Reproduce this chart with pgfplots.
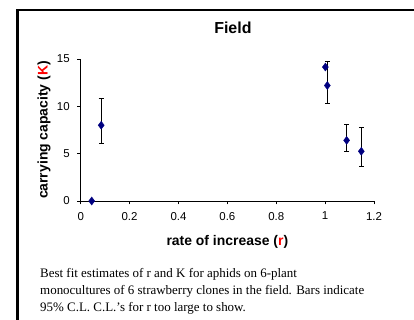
\documentclass[border=0pt]{standalone}
\usepackage{pgfplots}
\pgfplotsset{compat=1.18}
\usepackage{fontspec}
\setmainfont{Liberation Sans}
\newfontfamily\seriffont{Liberation Serif}
\definecolor{navy}{RGB}{0,0,128}
\begin{document}
\begin{tikzpicture}[x=1bp,y=1bp]
\useasboundingbox (0,0) rectangle (414,320);
\draw[line width=2.5bp] (17.5,-10) -- (17.5,310) -- (430,310);
\begin{axis}[
  at={(80.7bp,119bp)}, anchor=south west,
  scale only axis, width=293.3bp, height=142bp,
  xmin=0, xmax=1.2, ymin=0, ymax=15,
  axis lines=left, axis line style={-, black, line width=0.6bp},
  xtick={0,0.2,0.4,0.6,0.8,1,1.2}, ytick={0,5,10,15},
  tick align=outside, major tick length=3.5bp,
  tick style={black, line width=0.6bp},
  ticklabel style={font=\fontsize{11.5}{13}\selectfont},
  xticklabel style={yshift=-4bp},
  yticklabel style={xshift=-4bp},
  /pgf/number format/assume math mode=true,
  clip=false,
  every axis title shift=0pt,
  title={\textbf{Field}},
  title style={at={(axis description cs:0.519,1.218)}, anchor=center, font=\fontsize{16}{18}\selectfont},
  xlabel={\textbf{rate of increase (\textcolor{red}{r})}},
  xlabel style={at={(axis description cs:0.5,-0.287)}, anchor=center, font=\fontsize{14}{16}\selectfont},
  ylabel={\textbf{carrying capacity (\textcolor{red}{K})}},
  ylabel style={at={(axis description cs:-0.125,0.5)}, anchor=center, rotate=0, font=\fontsize{14}{16}\selectfont},
]
\addplot[only marks, mark=diamond*, mark size=4bp, navy, mark options={fill=navy, draw=navy},
  error bars/.cd, y dir=both, y explicit,
  error bar style={black, line width=0.6bp},
  error mark options={rotate=90, black, mark size=2.5bp, line width=0.6bp}]
  table[x=x, y=y, y error plus=ep, y error minus=em] {
x y ep em
0.045 0 0 0
0.084 8.0 2.9 1.95
1.001 14.15 0 0
1.009 12.2 2.6 1.9
1.088 6.4 1.7 1.1
1.148 5.25 2.55 1.55
};
\end{axis}
\node[anchor=base west, inner sep=0pt, font=\seriffont\fontsize{13}{15}\selectfont] at (40,42.7) {Best fit estimates of r and K for aphids on 6-plant};
\node[anchor=base west, inner sep=0pt, font=\seriffont\fontsize{13}{15}\selectfont] at (40,25.3) {monocultures of 6 strawberry clones in the field. Bars indicate};
\node[anchor=base west, inner sep=0pt, font=\seriffont\fontsize{13}{15}\selectfont] at (40,8.3) {95\% C.L. C.L.’s for r too large to show.};
\end{tikzpicture}
\end{document}
